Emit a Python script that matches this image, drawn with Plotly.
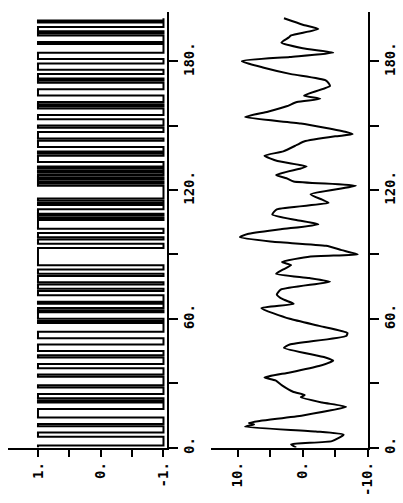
import plotly.graph_objects as go

# Input signal (PRBS, +/-1): sample indices where the level switches
u_start = 1.0
u_switch_times = [1, 5, 7, 10, 11, 14, 18, 21, 22, 23, 25, 28, 29, 33, 34, 37, 39, 42, 43, 45, 48,
                  51, 54, 58, 59, 60, 63, 64, 65, 67, 68, 71, 73, 74, 76, 77, 80, 81, 83, 85,
                  93, 95, 97, 98, 100, 102, 106, 107, 108, 109, 111, 113, 114, 115, 116,
                  122, 123, 124, 125, 126, 127, 128, 129, 130, 131, 133, 136, 137, 138, 140,
                  143, 144, 147, 149, 150, 153, 155, 158, 159, 160, 161, 164, 167, 170, 171,
                  172, 174, 176, 179, 181, 184, 188, 189, 192, 193, 194, 196, 198, 199]
t_end = 200

# Output signal
y_time = [0, 1.5, 3, 6, 7.5, 9.7, 10.8, 11.5, 12.5, 15, 19, 21, 23.5, 24.5, 26, 29, 31.3, 32.7,
          35, 38, 40.5, 42, 46.5, 48, 52, 53.4, 56.6, 60, 65, 67, 69, 71.3, 73.6, 77.3, 79, 81,
          83, 85, 86.5, 89, 90, 92, 94, 96, 98, 99.5, 101.7, 104, 106, 108.6, 111, 114, 115.5,
          118, 122, 124, 125.5, 127, 130, 131, 133.5, 136, 138, 141, 142.6, 145, 146, 147, 151,
          154, 156.5, 159, 161, 162.5, 164, 168.5, 171, 174, 177, 180, 182, 184, 186, 188.7,
          191, 192, 195, 197, 200]
y_vals = [1.0, 1.8, -4.5, -6.3, -2, 8.9, 7.5, 8.3, 6.5, 0, -6.7, -3, 0.3, -0.3, 1.5, 3.2, 4.2, 5.9,
          2, -2.5, -4.7, -3.5, 2.9, 2, -6.7, -6.9, -2.7, 2, 6.4, 1.4, 3, 4.0, 3.4, -4.2, -1, 4.1,
          3, 1.8, 3.2, -1.2, -8.5, -6, -3.6, 5, 9.7, 8.5, 3.4, -2.4, 1, 4.7, 4.0, -4, -3,
          -1.2, -8.2, 1.4, 2.5, 4.1, 0.3, -0.6, 3.9, 5.9, 3, 0.9, -0.2, -5, -7.7, -6.7, 0.3,
          8.9, 5.4, 2.5, 0.9, -2.7, -0.2, -4.2, -3.6, 1.8, 6, 9.4, 2, -4.7, 0, 3.3,
          2.2, 1.8, -2.4, 0, 2.9]

time_ticks = [0, 30, 60, 90, 120, 150, 180]
time_labels = ["0.", "", "60.", "", "120.", "", "180."]
u_ticks = [1, 0.5, 0, -0.5, -1]
u_labels = ["1.", "", "0.", "", "-1."]
y_ticks = [10, 5, 0, -5, -10]
y_labels = ["10.", "", "0.", "", "-10."]

# build step points
step_t = [0]
step_u = [u_start]
val = u_start
for s in u_switch_times:
    val = -val
    step_t.append(s)
    step_u.append(val)
step_t.append(t_end)
step_u.append(val)

W, H = 403, 503
def fx(px):
    return px / W
def fy(py):
    return (H - py) / H

font = dict(family="DejaVu Sans Mono", size=14, color="black", weight="bold")

fig = go.Figure()
fig.add_trace(go.Scatter(x=step_u, y=step_t, mode="lines", line=dict(color="black", width=2, shape="vh"),
                         xaxis="x", yaxis="y", showlegend=False, hoverinfo="skip"))
fig.add_trace(go.Scatter(x=y_vals, y=y_time, mode="lines", line=dict(color="black", width=2, shape="spline", smoothing=0.5),
                         xaxis="x2", yaxis="y2", showlegend=False, hoverinfo="skip"))

common_amp = dict(showline=True, linecolor="black", linewidth=2, ticks="outside", ticklen=7, tickwidth=2,
                  tickcolor="black", tickangle=-90, showgrid=False, zeroline=False, tickfont=font, side="bottom")
common_time = dict(showline=True, linecolor="black", linewidth=2, ticks="outside", ticklen=9, tickwidth=2,
                   tickcolor="black", tickangle=-90, showgrid=False, zeroline=False, tickfont=font, side="right",
                   range=[0, 203], tickvals=time_ticks, ticktext=time_labels, domain=[fy(453), fy(12)])

fig.update_layout(
    width=W, height=H, autosize=False,
    margin=dict(l=0, r=0, t=0, b=0),
    paper_bgcolor="white", plot_bgcolor="white",
    xaxis=dict(domain=[fx(8), fx(170)], range=[1.48, -1.05], tickvals=u_ticks, ticktext=u_labels,
               anchor="y", **common_amp),
    yaxis=dict(anchor="x", **common_time),
    xaxis2=dict(domain=[fx(215), fx(375)], range=[14.2, -10.0], tickvals=y_ticks, ticktext=y_labels,
                anchor="y2", **common_amp),
    yaxis2=dict(anchor="x2", **common_time),
)

fig.write_html("out.html")
